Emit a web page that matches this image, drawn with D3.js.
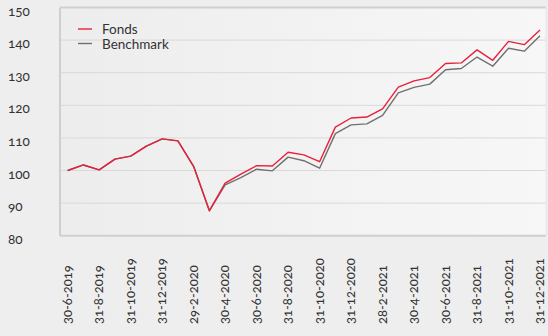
<!DOCTYPE html>
<html>
<head>
<meta charset="utf-8">
<script src="https://cdn.jsdelivr.net/npm/d3@7/dist/d3.min.js"></script>
<style>
  html, body { margin: 0; padding: 0; background: #eeeeee; }
  svg { display: block; font-family: "Lato", "Open Sans", sans-serif; font-variant-numeric: oldstyle-nums; }
</style>
</head>
<body>
<svg id="chart" width="548" height="336"></svg>
<script>
// Month-end dates, June 2019 to December 2021
const dates = [
  "30-6-2019","31-7-2019","31-8-2019","30-9-2019","31-10-2019","30-11-2019",
  "31-12-2019","31-1-2020","29-2-2020","31-3-2020","30-4-2020","31-5-2020",
  "30-6-2020","31-7-2020","31-8-2020","30-9-2020","31-10-2020","30-11-2020",
  "31-12-2020","31-1-2021","28-2-2021","31-3-2021","30-4-2021","31-5-2021",
  "30-6-2021","31-7-2021","31-8-2021","30-9-2021","31-10-2021","30-11-2021",
  "31-12-2021"
];
const fonds = [
  100.0, 101.7, 100.2, 103.5, 104.4, 107.5, 109.7, 109.1, 101.3, 87.7,
  96.1, 98.9, 101.5, 101.4, 105.6, 104.8, 102.7, 113.3, 116.1, 116.4,
  118.9, 125.6, 127.5, 128.5, 132.8, 133.0, 137.0, 133.8, 139.6, 138.6,
  143.1
];
const benchmark = [
  100.0, 101.7, 100.2, 103.5, 104.4, 107.5, 109.7, 109.1, 101.2, 87.6,
  95.6, 97.8, 100.4, 99.9, 104.1, 103.0, 100.7, 111.3, 114.0, 114.3,
  116.9, 123.8, 125.5, 126.5, 130.9, 131.3, 134.8, 132.0, 137.5, 136.6,
  141.3
];
const yTicks = [80, 90, 100, 110, 120, 130, 140, 150];
const seriesNames = ["Fonds", "Benchmark"];
const seriesColors = ["#e8203a", "#707070"];

const svg = d3.select("#chart");
const plot = { left: 60, right: 546, top: 7.5, bottom: 235.7 };

const x = d3.scalePoint().domain(dates).range([67.7, 540]);
const y = d3.scaleLinear().domain([80, 150]).range([plot.bottom, plot.top]);

// Plot panel with a soft left-to-right gradient
const defs = svg.append("defs");
const grad = defs.append("linearGradient").attr("id", "panel").attr("x1", 0).attr("x2", 1).attr("y1", 0).attr("y2", 0);
grad.append("stop").attr("offset", 0).attr("stop-color", "#ededed");
grad.append("stop").attr("offset", 1).attr("stop-color", "#f7f7f7");

svg.append("rect")
  .attr("x", plot.left).attr("y", plot.top)
  .attr("width", plot.right - plot.left).attr("height", plot.bottom - plot.top)
  .attr("fill", "url(#panel)");

// Horizontal gridlines
svg.append("g").selectAll("line").data(yTicks.filter(t => t > 80 && t < 150)).join("line")
  .attr("x1", plot.left).attr("x2", plot.right)
  .attr("y1", d => y(d)).attr("y2", d => y(d))
  .attr("stroke", "#d9d9d9").attr("stroke-width", 1);

// Panel frame
svg.append("line").attr("x1", plot.left).attr("x2", plot.right).attr("y1", plot.top).attr("y2", plot.top)
  .attr("stroke", "#cfcfcf").attr("stroke-width", 2);
svg.append("line").attr("x1", plot.left).attr("x2", plot.right).attr("y1", plot.bottom).attr("y2", plot.bottom)
  .attr("stroke", "#cfcfcf").attr("stroke-width", 2);
svg.append("line").attr("x1", plot.left).attr("x2", plot.left).attr("y1", plot.top).attr("y2", plot.bottom)
  .attr("stroke", "#cfcfcf").attr("stroke-width", 2);
svg.append("line").attr("x1", plot.right).attr("x2", plot.right).attr("y1", plot.top).attr("y2", plot.bottom)
  .attr("stroke", "#e6e6e6").attr("stroke-width", 1);

// Y axis labels
svg.append("g").selectAll("text").data(yTicks).join("text")
  .attr("x", 8).attr("y", d => y(d) + 8)
  .attr("font-size", 13.5).attr("fill", "#333")
  .text(d => d);

// X axis labels, every second month, rotated
svg.append("g").selectAll("text").data(dates.filter((d, i) => i % 2 === 0)).join("text")
  .attr("transform", d => `translate(${x(d) + 4},324) rotate(-90)`)
  .attr("text-anchor", "start")
  .attr("font-size", 13).attr("fill", "#333")
  .text(d => d);

// Series lines
const line = d3.line().x((d, i) => x(dates[i])).y(d => y(d));
[benchmark, fonds].forEach((vals, k) => {
  svg.append("path")
    .datum(vals)
    .attr("d", line)
    .attr("fill", "none")
    .attr("stroke", k === 0 ? seriesColors[1] : seriesColors[0])
    .attr("stroke-width", 1.4)
    .attr("stroke-linejoin", "round");
});

// Legend
const legend = svg.append("g");
seriesNames.forEach((name, i) => {
  const ly = 29 + i * 14.5;
  legend.append("line").attr("x1", 78).attr("x2", 92).attr("y1", ly).attr("y2", ly)
    .attr("stroke", seriesColors[i]).attr("stroke-width", 1.4);
  legend.append("text").attr("x", 102).attr("y", ly + 5)
    .attr("font-size", 13.5).attr("fill", "#333").text(name);
});
</script>
</body>
</html>
